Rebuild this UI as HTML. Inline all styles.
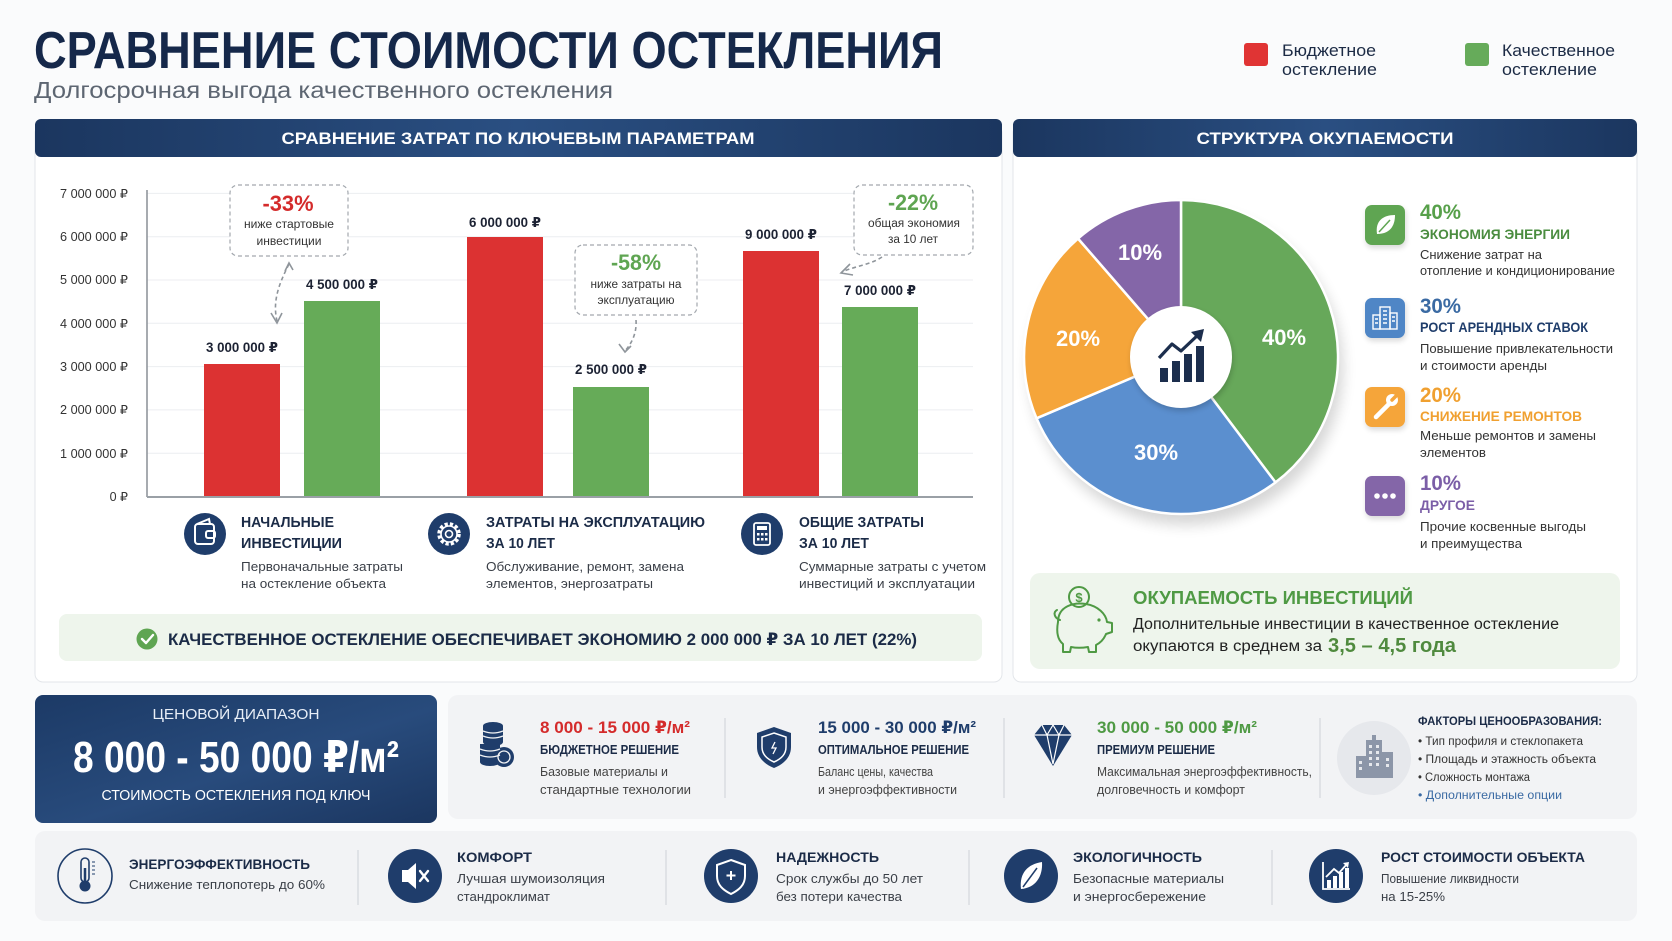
<!DOCTYPE html>
<html><head><meta charset="utf-8">
<style>
html,body{margin:0;padding:0;background:#fafbfc;}
svg{display:block;font-family:"Liberation Sans","DejaVu Sans",sans-serif;}
</style></head><body>
<svg width="1672" height="941" viewBox="0 0 1672 941" xmlns="http://www.w3.org/2000/svg">
<defs>
 <linearGradient id="hdr" x1="0" x2="1" y1="0" y2="0">
  <stop offset="0" stop-color="#1b365f"/><stop offset="0.5" stop-color="#2a4f82"/><stop offset="1" stop-color="#1b365f"/>
 </linearGradient>
 <linearGradient id="navy" x1="0" y1="0" x2="1" y2="1">
  <stop offset="0" stop-color="#1c3a66"/><stop offset="0.55" stop-color="#284b7c"/><stop offset="1" stop-color="#1b3660"/>
 </linearGradient>
 <filter id="sh" x="-30%" y="-30%" width="160%" height="160%"><feGaussianBlur stdDeviation="7"/></filter>
 <filter id="sh2" x="-30%" y="-30%" width="160%" height="160%"><feGaussianBlur stdDeviation="3"/></filter>
</defs>
<rect width="1672" height="941" fill="#fafbfc"/>

<!-- Title -->
<text x="34" y="68" font-size="52" font-weight="bold" fill="#15284a" textLength="909" lengthAdjust="spacingAndGlyphs">СРАВНЕНИЕ СТОИМОСТИ ОСТЕКЛЕНИЯ</text>
<text x="34" y="98" font-size="23" fill="#5d6672" textLength="579" lengthAdjust="spacingAndGlyphs">Долгосрочная выгода качественного остекления</text>

<!-- Legend -->
<rect x="1244" y="43" width="24" height="23" rx="3" fill="#e03434"/>
<text x="1282" y="56" font-size="17" fill="#1c2b45" textLength="94" lengthAdjust="spacingAndGlyphs">Бюджетное</text>
<text x="1282" y="75" font-size="17" fill="#1c2b45" textLength="95" lengthAdjust="spacingAndGlyphs">остекление</text>
<rect x="1465" y="43" width="24" height="23" rx="3" fill="#66ab5a"/>
<text x="1502" y="56" font-size="17" fill="#1c2b45" textLength="113" lengthAdjust="spacingAndGlyphs">Качественное</text>
<text x="1502" y="75" font-size="17" fill="#1c2b45" textLength="95" lengthAdjust="spacingAndGlyphs">остекление</text>

<!-- Left panel -->
<rect x="35" y="125" width="967" height="557" rx="8" fill="#fff" stroke="#e3e6ea"/>
<rect x="35" y="119" width="967" height="38" rx="6" fill="url(#hdr)"/>
<text x="518" y="144" font-size="17" font-weight="bold" fill="#fff" text-anchor="middle" textLength="473" lengthAdjust="spacingAndGlyphs">СРАВНЕНИЕ ЗАТРАТ ПО КЛЮЧЕВЫМ ПАРАМЕТРАМ</text>

<!-- Right panel -->
<rect x="1013" y="125" width="624" height="557" rx="8" fill="#fff" stroke="#e3e6ea"/>
<rect x="1013" y="119" width="624" height="38" rx="6" fill="url(#hdr)"/>
<text x="1325" y="144" font-size="17" font-weight="bold" fill="#fff" text-anchor="middle" textLength="257" lengthAdjust="spacingAndGlyphs">СТРУКТУРА ОКУПАЕМОСТИ</text>

<!-- Grid -->
<g stroke="#eceef1" stroke-width="1">
 <line x1="147" y1="453.2" x2="973" y2="453.2"/>
 <line x1="147" y1="409.9" x2="973" y2="409.9"/>
 <line x1="147" y1="366.6" x2="973" y2="366.6"/>
 <line x1="147" y1="323.3" x2="973" y2="323.3"/>
 <line x1="147" y1="280" x2="973" y2="280"/>
 <line x1="147" y1="236.7" x2="973" y2="236.7"/>
 <line x1="147" y1="193.4" x2="973" y2="193.4"/>
</g>
<line x1="147" y1="190" x2="147" y2="497" stroke="#8a8f96" stroke-width="1.5"/>

<!-- Y ticks -->
<g font-size="12.5" fill="#333" text-anchor="end">
 <text x="128" y="198" textLength="68" lengthAdjust="spacingAndGlyphs">7 000 000 ₽</text>
 <text x="128" y="241" textLength="68" lengthAdjust="spacingAndGlyphs">6 000 000 ₽</text>
 <text x="128" y="284" textLength="68" lengthAdjust="spacingAndGlyphs">5 000 000 ₽</text>
 <text x="128" y="328" textLength="68" lengthAdjust="spacingAndGlyphs">4 000 000 ₽</text>
 <text x="128" y="371" textLength="68" lengthAdjust="spacingAndGlyphs">3 000 000 ₽</text>
 <text x="128" y="414" textLength="68" lengthAdjust="spacingAndGlyphs">2 000 000 ₽</text>
 <text x="128" y="458" textLength="68" lengthAdjust="spacingAndGlyphs">1 000 000 ₽</text>
 <text x="128" y="501">0 ₽</text>
</g>

<!-- Bars -->
<rect x="204" y="364" width="76" height="133" fill="#dc3232"/>
<rect x="304" y="301" width="76" height="196" fill="#66ab58"/>
<rect x="467" y="237" width="76" height="260" fill="#dc3232"/>
<rect x="573" y="387" width="76" height="110" fill="#66ab58"/>
<rect x="743" y="251" width="76" height="246" fill="#dc3232"/>
<rect x="842" y="307" width="76" height="190" fill="#66ab58"/>
<line x1="147" y1="497" x2="973" y2="497" stroke="#9aa0a6" stroke-width="2"/>

<g font-size="13.5" font-weight="bold" fill="#1c2233" text-anchor="middle">
 <text x="242" y="352" textLength="72" lengthAdjust="spacingAndGlyphs">3 000 000 ₽</text>
 <text x="342" y="289" textLength="72" lengthAdjust="spacingAndGlyphs">4 500 000 ₽</text>
 <text x="505" y="227" textLength="72" lengthAdjust="spacingAndGlyphs">6 000 000 ₽</text>
 <text x="611" y="374" textLength="72" lengthAdjust="spacingAndGlyphs">2 500 000 ₽</text>
 <text x="781" y="239" textLength="72" lengthAdjust="spacingAndGlyphs">9 000 000 ₽</text>
 <text x="880" y="295" textLength="72" lengthAdjust="spacingAndGlyphs">7 000 000 ₽</text>
</g>

<!-- Callouts -->
<g fill="#fff" stroke="#a3a8ae" stroke-width="1.2" stroke-dasharray="4 3">
 <rect x="230" y="185" width="118" height="71" rx="8"/>
 <rect x="575" y="245" width="122" height="70" rx="8"/>
 <rect x="854" y="185" width="119" height="70" rx="8"/>
</g>
<text x="288" y="211" font-size="22" font-weight="bold" fill="#d42b2b" text-anchor="middle" textLength="51" lengthAdjust="spacingAndGlyphs">-33%</text>
<text x="289" y="228" font-size="11.5" fill="#333" text-anchor="middle" textLength="90" lengthAdjust="spacingAndGlyphs">ниже стартовые</text>
<text x="289" y="245" font-size="11.5" fill="#333" text-anchor="middle" textLength="65" lengthAdjust="spacingAndGlyphs">инвестиции</text>
<text x="636" y="270" font-size="22" font-weight="bold" fill="#5fa552" text-anchor="middle" textLength="50" lengthAdjust="spacingAndGlyphs">-58%</text>
<text x="636" y="288" font-size="11.5" fill="#333" text-anchor="middle" textLength="91" lengthAdjust="spacingAndGlyphs">ниже затраты на</text>
<text x="636" y="304" font-size="11.5" fill="#333" text-anchor="middle" textLength="77" lengthAdjust="spacingAndGlyphs">эксплуатацию</text>
<text x="913" y="210" font-size="22" font-weight="bold" fill="#5fa552" text-anchor="middle" textLength="50" lengthAdjust="spacingAndGlyphs">-22%</text>
<text x="914" y="227" font-size="11.5" fill="#333" text-anchor="middle" textLength="92" lengthAdjust="spacingAndGlyphs">общая экономия</text>
<text x="913" y="243" font-size="11.5" fill="#333" text-anchor="middle" textLength="50" lengthAdjust="spacingAndGlyphs">за 10 лет</text>

<g fill="none" stroke="#8f959b" stroke-width="1.6">
 <path d="M289 264 C280 282 272 300 277 321" stroke-dasharray="4 3"/>
 <path d="M271 313 L277 323 L282 313"/>
 <path d="M285 271 L289 263 L293 270"/>
 <path d="M636 320 C637 334 631 344 625 351" stroke-dasharray="4 3"/>
 <path d="M619 344 L625 352 L631 346"/>
 <path d="M882 257 C870 265 855 266 842 272" stroke-dasharray="4 3"/>
 <path d="M850 264 L841 273 L853 275"/>
</g>

<!-- Category icons + labels -->
<circle cx="205" cy="534" r="21" fill="#1f3d6b"/>
<g fill="none" stroke="#fff" stroke-width="2">
 <rect x="195" y="524" width="19" height="20" rx="3"/>
 <rect x="206" y="531" width="9" height="7" rx="2"/>
 <path d="M197 524 L209 519 L210 524"/>
</g>
<circle cx="449" cy="534" r="21" fill="#1f3d6b"/>
<circle cx="449" cy="534" r="10" fill="none" stroke="#fff" stroke-width="3.5" stroke-dasharray="3.2 2.1"/>
<circle cx="449" cy="534" r="8" fill="none" stroke="#fff" stroke-width="1.6"/>
<circle cx="449" cy="534" r="3.5" fill="none" stroke="#fff" stroke-width="1.6"/>
<circle cx="762" cy="534" r="21" fill="#1f3d6b"/>
<rect x="754" y="523" width="16" height="22" rx="2" fill="none" stroke="#fff" stroke-width="1.8"/>
<rect x="757" y="526" width="10" height="4" fill="#fff"/>
<g fill="#fff">
 <rect x="757" y="533" width="2.5" height="2.5"/><rect x="761" y="533" width="2.5" height="2.5"/><rect x="765" y="533" width="2.5" height="2.5"/>
 <rect x="757" y="538" width="2.5" height="2.5"/><rect x="761" y="538" width="2.5" height="2.5"/><rect x="765" y="538" width="2.5" height="2.5"/>
</g>

<g font-size="14.5" font-weight="bold" fill="#1b2b47">
 <text x="241" y="527" textLength="93" lengthAdjust="spacingAndGlyphs">НАЧАЛЬНЫЕ</text>
 <text x="241" y="548" textLength="101" lengthAdjust="spacingAndGlyphs">ИНВЕСТИЦИИ</text>
 <text x="486" y="527" textLength="219" lengthAdjust="spacingAndGlyphs">ЗАТРАТЫ НА ЭКСПЛУАТАЦИЮ</text>
 <text x="486" y="548" textLength="69" lengthAdjust="spacingAndGlyphs">ЗА 10 ЛЕТ</text>
 <text x="799" y="527" textLength="125" lengthAdjust="spacingAndGlyphs">ОБЩИЕ ЗАТРАТЫ</text>
 <text x="799" y="548" textLength="70" lengthAdjust="spacingAndGlyphs">ЗА 10 ЛЕТ</text>
</g>
<g font-size="13" fill="#3a3f47">
 <text x="241" y="571" textLength="162" lengthAdjust="spacingAndGlyphs">Первоначальные затраты</text>
 <text x="241" y="588" textLength="145" lengthAdjust="spacingAndGlyphs">на остекление объекта</text>
 <text x="486" y="571" textLength="198" lengthAdjust="spacingAndGlyphs">Обслуживание, ремонт, замена</text>
 <text x="486" y="588" textLength="167" lengthAdjust="spacingAndGlyphs">элементов, энергозатраты</text>
 <text x="799" y="571" textLength="187" lengthAdjust="spacingAndGlyphs">Суммарные затраты с учетом</text>
 <text x="799" y="588" textLength="176" lengthAdjust="spacingAndGlyphs">инвестиций и эксплуатации</text>
</g>

<!-- Savings banner -->
<rect x="59" y="614" width="923" height="47" rx="8" fill="#eef5ec"/>
<circle cx="147" cy="639" r="10.5" fill="#5fa552"/>
<path d="M142 639 L146 643 L153 635" fill="none" stroke="#fff" stroke-width="2.4" stroke-linecap="round" stroke-linejoin="round"/>
<text x="168" y="645" font-size="17" font-weight="bold" fill="#1b2b47" textLength="749" lengthAdjust="spacingAndGlyphs">КАЧЕСТВЕННОЕ ОСТЕКЛЕНИЕ ОБЕСПЕЧИВАЕТ ЭКОНОМИЮ 2 000 000 ₽ ЗА 10 ЛЕТ (22%)</text>

<!-- Pie -->
<circle cx="1186" cy="368" r="157" fill="#000" opacity="0.16" filter="url(#sh)"/>
<g stroke="#fff" stroke-width="2.5" stroke-linejoin="round">
 <path d="M1181 357 L1181 200 A157 157 0 0 1 1275.5 482.4 Z" fill="#67a85a"/>
 <path d="M1181 357 L1275.5 482.4 A157 157 0 0 1 1036.5 418.3 Z" fill="#5b8fcf"/>
 <path d="M1181 357 L1036.5 418.3 A157 157 0 0 1 1078 238.5 Z" fill="#f5a53a"/>
 <path d="M1181 357 L1078 238.5 A157 157 0 0 1 1181 200 Z" fill="#8466a8"/>
</g>
<circle cx="1182" cy="360" r="51" fill="#000" opacity="0.18" filter="url(#sh2)"/>
<circle cx="1181" cy="357" r="51" fill="#fff"/>
<g fill="#1c2e4d">
 <rect x="1160" y="368" width="8" height="14"/>
 <rect x="1172" y="361" width="8" height="21"/>
 <rect x="1184" y="354" width="8" height="28"/>
 <rect x="1196" y="346" width="8" height="36"/>
</g>
<path d="M1159 358 L1172 344 L1181 351 L1199 334" fill="none" stroke="#1c2e4d" stroke-width="3.2" stroke-linejoin="round"/>
<path d="M1191 332 L1204 329 L1201 342 Z" fill="#1c2e4d"/>
<g font-size="22" font-weight="bold" fill="#fff" text-anchor="middle">
 <text x="1284" y="345">40%</text>
 <text x="1156" y="460">30%</text>
 <text x="1078" y="346">20%</text>
 <text x="1140" y="260">10%</text>
</g>

<!-- Right legend items -->
<g>
 <rect x="1366" y="208" width="40" height="40" rx="7" fill="#000" opacity="0.15" filter="url(#sh2)"/>
 <rect x="1365" y="205" width="40" height="40" rx="7" fill="#5fa552"/>
 <path d="M1377 234 C1375 221 1383 215 1395 215 C1395 227 1389 234 1377 234 Z" fill="#fff"/>
 <path d="M1379 232 L1390 220" stroke="#5fa552" stroke-width="1.5"/>
 <rect x="1366" y="301" width="40" height="40" rx="7" fill="#000" opacity="0.15" filter="url(#sh2)"/>
 <rect x="1365" y="298" width="40" height="40" rx="7" fill="#4f86c6"/>
 <g fill="none" stroke="#fff" stroke-width="1.4">
  <rect x="1380" y="307" width="10" height="22"/>
  <rect x="1373" y="315" width="7" height="14"/>
  <rect x="1390" y="313" width="7" height="16"/>
  <path d="M1383 311 h4 M1383 315 h4 M1383 319 h4 M1383 323 h4 M1375 319 h3 M1375 323 h3 M1392 317 h3 M1392 321 h3"/>
 </g>
 <rect x="1366" y="390" width="40" height="40" rx="7" fill="#000" opacity="0.15" filter="url(#sh2)"/>
 <rect x="1365" y="387" width="40" height="40" rx="7" fill="#f5a53a"/>
 <path d="M1376 417 L1390 403" stroke="#fff" stroke-width="4.5" stroke-linecap="round"/>
 <circle cx="1392" cy="400" r="6" fill="#fff"/>
 <path d="M1392 400 L1398 394" stroke="#f5a53a" stroke-width="3.5" stroke-linecap="round"/>
 <rect x="1366" y="479" width="40" height="40" rx="7" fill="#000" opacity="0.15" filter="url(#sh2)"/>
 <rect x="1365" y="476" width="40" height="40" rx="7" fill="#8466a8"/>
 <circle cx="1377" cy="496" r="2.8" fill="#fff"/><circle cx="1385" cy="496" r="2.8" fill="#fff"/><circle cx="1393" cy="496" r="2.8" fill="#fff"/>
</g>
<text x="1420" y="219" font-size="21" font-weight="bold" fill="#57a04a" textLength="41" lengthAdjust="spacingAndGlyphs">40%</text>
<text x="1420" y="239" font-size="14" font-weight="bold" fill="#4a8c3f" textLength="150" lengthAdjust="spacingAndGlyphs">ЭКОНОМИЯ ЭНЕРГИИ</text>
<text x="1420" y="259" font-size="12.5" fill="#333" textLength="122" lengthAdjust="spacingAndGlyphs">Снижение затрат на</text>
<text x="1420" y="275" font-size="12.5" fill="#333" textLength="195" lengthAdjust="spacingAndGlyphs">отопление и кондиционирование</text>

<text x="1420" y="313" font-size="21" font-weight="bold" fill="#3a6aa3" textLength="41" lengthAdjust="spacingAndGlyphs">30%</text>
<text x="1420" y="332" font-size="14" font-weight="bold" fill="#1f3d6b" textLength="168" lengthAdjust="spacingAndGlyphs">РОСТ АРЕНДНЫХ СТАВОК</text>
<text x="1420" y="353" font-size="12.5" fill="#333" textLength="193" lengthAdjust="spacingAndGlyphs">Повышение привлекательности</text>
<text x="1420" y="370" font-size="12.5" fill="#333" textLength="127" lengthAdjust="spacingAndGlyphs">и стоимости аренды</text>

<text x="1420" y="402" font-size="21" font-weight="bold" fill="#f0a030" textLength="41" lengthAdjust="spacingAndGlyphs">20%</text>
<text x="1420" y="421" font-size="14" font-weight="bold" fill="#f0a030" textLength="162" lengthAdjust="spacingAndGlyphs">СНИЖЕНИЕ РЕМОНТОВ</text>
<text x="1420" y="440" font-size="12.5" fill="#333" textLength="176" lengthAdjust="spacingAndGlyphs">Меньше ремонтов и замены</text>
<text x="1420" y="457" font-size="12.5" fill="#333" textLength="66" lengthAdjust="spacingAndGlyphs">элементов</text>

<text x="1420" y="490" font-size="21" font-weight="bold" fill="#7b5ea7" textLength="41" lengthAdjust="spacingAndGlyphs">10%</text>
<text x="1420" y="510" font-size="14" font-weight="bold" fill="#7b5ea7" textLength="55" lengthAdjust="spacingAndGlyphs">ДРУГОЕ</text>
<text x="1420" y="531" font-size="12.5" fill="#333" textLength="166" lengthAdjust="spacingAndGlyphs">Прочие косвенные выгоды</text>
<text x="1420" y="548" font-size="12.5" fill="#333" textLength="102" lengthAdjust="spacingAndGlyphs">и преимущества</text>

<!-- Payback box -->
<rect x="1030" y="573" width="590" height="96" rx="10" fill="#eef5ec"/>
<g fill="none" stroke="#4f9a44" stroke-width="2" stroke-linejoin="round" stroke-linecap="round">
 <path d="M1058 622 C1058 606 1074 602 1086 604 C1098 606 1106 614 1107 622 L1112 623 L1112 632 L1106 634 C1104 639 1100 643 1096 645 L1096 652 L1089 652 L1088 647 C1082 648 1076 648 1071 647 L1070 652 L1063 652 L1063 644 C1058 640 1056 633 1058 622 Z"/>
 <path d="M1060 620 C1054 618 1053 612 1057 610"/>
 <circle cx="1079" cy="597" r="10"/>
</g>
<circle cx="1099" cy="620" r="1.6" fill="#4f9a44"/>
<text x="1079" y="602" font-size="13" font-weight="bold" fill="#4f9a44" text-anchor="middle">$</text>
<text x="1133" y="604" font-size="18" font-weight="bold" fill="#4f9a44" textLength="280" lengthAdjust="spacingAndGlyphs">ОКУПАЕМОСТЬ ИНВЕСТИЦИЙ</text>
<text x="1133" y="629" font-size="15.5" fill="#222" textLength="426" lengthAdjust="spacingAndGlyphs">Дополнительные инвестиции в качественное остекление</text>
<text x="1133" y="651" font-size="15.5" fill="#222" textLength="189" lengthAdjust="spacingAndGlyphs">окупаются в среднем за</text>
<text x="1328" y="652" font-size="20" font-weight="bold" fill="#4f8a3e" textLength="128" lengthAdjust="spacingAndGlyphs">3,5 – 4,5 года</text>

<!-- Price range box -->
<rect x="35" y="695" width="402" height="128" rx="8" fill="url(#navy)"/>
<text x="236" y="719" font-size="15" fill="#e8eef7" text-anchor="middle" textLength="167" lengthAdjust="spacingAndGlyphs">ЦЕНОВОЙ ДИАПАЗОН</text>
<text x="236" y="772" font-size="44" font-weight="bold" fill="#fff" text-anchor="middle" textLength="326" lengthAdjust="spacingAndGlyphs">8 000 - 50 000 ₽/м²</text>
<text x="236" y="800" font-size="14.5" fill="#fff" text-anchor="middle" textLength="269" lengthAdjust="spacingAndGlyphs">СТОИМОСТЬ ОСТЕКЛЕНИЯ ПОД КЛЮЧ</text>

<!-- Tiers box -->
<rect x="448" y="695" width="1189" height="124" rx="10" fill="#f2f3f5"/>
<g fill="#1f3d6b">
 <ellipse cx="493" cy="726" rx="10" ry="4"/>
 <rect x="483" y="726" width="20" height="16"/>
 <ellipse cx="493" cy="742" rx="10" ry="4"/>
 <rect x="480" y="744" width="20" height="18"/>
 <ellipse cx="490" cy="762" rx="10" ry="4"/>
 <circle cx="504" cy="757" r="10"/>
</g>
<g fill="none" stroke="#f2f3f5" stroke-width="1.3">
 <path d="M483 731 q10 4 20 0 M483 736 q10 4 20 0 M480 749 q10 4 20 0 M480 755 q10 4 20 0"/>
 <circle cx="504" cy="757" r="6"/>
</g>
<path d="M774 727 L791 733 L791 747 C791 757 784 764 774 768 C764 764 757 757 757 747 L757 733 Z" fill="#1f3d6b"/>
<path d="M774 733 L786 737 L786 747 C786 754 781 759 774 762 C767 759 762 754 762 747 L762 737 Z" fill="none" stroke="#fff" stroke-width="1.5"/>
<path d="M775 742 L772 748 L776 748 L773 754" fill="none" stroke="#fff" stroke-width="1.3"/>
<polygon points="1034,735 1042,725 1064,725 1072,735 1053,766" fill="#1f3d6b"/>
<path d="M1034 735 L1072 735 M1042 725 L1047 735 L1053 725 L1059 735 L1064 725 M1047 735 L1053 764 L1059 735" fill="none" stroke="#fff" stroke-width="1.2"/>
<circle cx="1374" cy="758" r="37" fill="#e6e8ec"/>
<g fill="#8c96a8">
 <rect x="1366" y="740" width="16" height="38"/>
 <rect x="1356" y="756" width="10" height="22"/>
 <rect x="1382" y="752" width="11" height="26"/>
 <rect x="1372" y="735" width="4" height="6"/>
</g>
<g fill="#e6e8ec">
 <rect x="1369" y="745" width="3" height="3"/><rect x="1376" y="745" width="3" height="3"/>
 <rect x="1369" y="751" width="3" height="3"/><rect x="1376" y="751" width="3" height="3"/>
 <rect x="1369" y="757" width="3" height="3"/><rect x="1376" y="757" width="3" height="3"/>
 <rect x="1369" y="763" width="3" height="3"/><rect x="1376" y="763" width="3" height="3"/>
 <rect x="1359" y="761" width="3" height="3"/><rect x="1359" y="767" width="3" height="3"/>
 <rect x="1386" y="758" width="3" height="3"/><rect x="1386" y="764" width="3" height="3"/>
</g>
<g stroke="#d3d6db" stroke-width="1.2">
 <line x1="725" y1="718" x2="725" y2="798"/>
 <line x1="1004" y1="718" x2="1004" y2="798"/>
 <line x1="1320" y1="718" x2="1320" y2="798"/>
</g>
<text x="540" y="733" font-size="17" font-weight="bold" fill="#d42b2b" textLength="150" lengthAdjust="spacingAndGlyphs">8 000 - 15 000 ₽/м²</text>
<text x="540" y="754" font-size="12.5" font-weight="bold" fill="#1b2b47" textLength="139" lengthAdjust="spacingAndGlyphs">БЮДЖЕТНОЕ РЕШЕНИЕ</text>
<text x="540" y="776" font-size="12.5" fill="#444" textLength="128" lengthAdjust="spacingAndGlyphs">Базовые материалы и</text>
<text x="540" y="794" font-size="12.5" fill="#444" textLength="151" lengthAdjust="spacingAndGlyphs">стандартные технологии</text>

<text x="818" y="733" font-size="17" font-weight="bold" fill="#1f3d6b" textLength="158" lengthAdjust="spacingAndGlyphs">15 000 - 30 000 ₽/м²</text>
<text x="818" y="754" font-size="12.5" font-weight="bold" fill="#1b2b47" textLength="151" lengthAdjust="spacingAndGlyphs">ОПТИМАЛЬНОЕ РЕШЕНИЕ</text>
<text x="818" y="776" font-size="12.5" fill="#444" textLength="115" lengthAdjust="spacingAndGlyphs">Баланс цены, качества</text>
<text x="818" y="794" font-size="12.5" fill="#444" textLength="139" lengthAdjust="spacingAndGlyphs">и энергоэффективности</text>

<text x="1097" y="733" font-size="17" font-weight="bold" fill="#4f9a44" textLength="160" lengthAdjust="spacingAndGlyphs">30 000 - 50 000 ₽/м²</text>
<text x="1097" y="754" font-size="12.5" font-weight="bold" fill="#1b2b47" textLength="118" lengthAdjust="spacingAndGlyphs">ПРЕМИУМ РЕШЕНИЕ</text>
<text x="1097" y="776" font-size="12.5" fill="#444" textLength="215" lengthAdjust="spacingAndGlyphs">Максимальная энергоэффективность,</text>
<text x="1097" y="794" font-size="12.5" fill="#444" textLength="148" lengthAdjust="spacingAndGlyphs">долговечность и комфорт</text>

<text x="1418" y="725" font-size="12" font-weight="bold" fill="#1b2b47" textLength="184" lengthAdjust="spacingAndGlyphs">ФАКТОРЫ ЦЕНООБРАЗОВАНИЯ:</text>
<text x="1418" y="745" font-size="11.5" fill="#333" textLength="165" lengthAdjust="spacingAndGlyphs">• Тип профиля и стеклопакета</text>
<text x="1418" y="763" font-size="11.5" fill="#333" textLength="178" lengthAdjust="spacingAndGlyphs">• Площадь и этажность объекта</text>
<text x="1418" y="781" font-size="11.5" fill="#333" textLength="112" lengthAdjust="spacingAndGlyphs">• Сложность монтажа</text>
<text x="1418" y="799" font-size="11.5" fill="#3a6aa3" textLength="144" lengthAdjust="spacingAndGlyphs">• Дополнительные опции</text>

<!-- Bottom strip -->
<rect x="35" y="831" width="1602" height="90" rx="10" fill="#f2f3f5"/>
<g stroke="#d3d6db" stroke-width="1.2">
 <line x1="358" y1="850" x2="358" y2="905"/>
 <line x1="666" y1="850" x2="666" y2="905"/>
 <line x1="969" y1="850" x2="969" y2="905"/>
 <line x1="1272" y1="850" x2="1272" y2="905"/>
</g>
<!-- icon 1 thermometer -->
<circle cx="85" cy="876" r="27" fill="none" stroke="#1f3d6b" stroke-width="1.6"/>
<rect x="81" y="858" width="8" height="24" rx="4" fill="none" stroke="#1f3d6b" stroke-width="1.6"/>
<circle cx="85" cy="886" r="5.5" fill="#1f3d6b"/>
<line x1="85" y1="868" x2="85" y2="884" stroke="#1f3d6b" stroke-width="2.5"/>
<path d="M92 862 h3 M92 866 h3 M92 870 h3 M92 874 h3" stroke="#1f3d6b" stroke-width="1"/>
<!-- icon 2 speaker -->
<circle cx="415" cy="876" r="27" fill="#1f3d6b"/>
<polygon points="402,870 408,870 416,863 416,889 408,882 402,882" fill="#fff"/>
<path d="M420 871 L428 881 M428 871 L420 881" stroke="#fff" stroke-width="2.4" stroke-linecap="round"/>
<!-- icon 3 shield -->
<circle cx="731" cy="876" r="27" fill="#1f3d6b"/>
<path d="M731 860 L745 865 L745 876 C745 885 739 890 731 894 C723 890 717 885 717 876 L717 865 Z" fill="none" stroke="#fff" stroke-width="2"/>
<path d="M731 871 v9 M726.5 875.5 h9" stroke="#fff" stroke-width="2"/>
<!-- icon 4 leaf -->
<circle cx="1031" cy="876" r="27" fill="#1f3d6b"/>
<path d="M1021 889 C1019 873 1028 864 1042 862 C1043 877 1035 888 1021 889 Z" fill="#fff"/>
<path d="M1023 887 L1037 868" stroke="#1f3d6b" stroke-width="1.5"/>
<!-- icon 5 chart -->
<circle cx="1336" cy="876" r="27" fill="#1f3d6b"/>
<path d="M1323 862 V889 H1350" fill="none" stroke="#fff" stroke-width="1.8"/>
<g fill="#fff">
 <rect x="1327" y="880" width="4" height="8"/><rect x="1333" y="876" width="4" height="12"/><rect x="1339" y="872" width="4" height="16"/><rect x="1345" y="868" width="4" height="20"/>
</g>
<path d="M1326 877 L1334 869 L1339 873 L1347 864" fill="none" stroke="#fff" stroke-width="1.8"/>
<path d="M1343 863 L1349 862 L1348 868 Z" fill="#fff"/>

<g font-size="14" font-weight="bold" fill="#1b2b47">
 <text x="129" y="869" textLength="181" lengthAdjust="spacingAndGlyphs">ЭНЕРГОЭФФЕКТИВНОСТЬ</text>
 <text x="457" y="862" textLength="75" lengthAdjust="spacingAndGlyphs">КОМФОРТ</text>
 <text x="776" y="862" textLength="103" lengthAdjust="spacingAndGlyphs">НАДЕЖНОСТЬ</text>
 <text x="1073" y="862" textLength="129" lengthAdjust="spacingAndGlyphs">ЭКОЛОГИЧНОСТЬ</text>
 <text x="1381" y="862" textLength="204" lengthAdjust="spacingAndGlyphs">РОСТ СТОИМОСТИ ОБЪЕКТА</text>
</g>
<g font-size="13" fill="#3a3f47">
 <text x="129" y="889" textLength="196" lengthAdjust="spacingAndGlyphs">Снижение теплопотерь до 60%</text>
 <text x="457" y="883" textLength="148" lengthAdjust="spacingAndGlyphs">Лучшая шумоизоляция</text>
 <text x="457" y="901" textLength="93" lengthAdjust="spacingAndGlyphs">стандроклимат</text>
 <text x="776" y="883" textLength="147" lengthAdjust="spacingAndGlyphs">Срок службы до 50 лет</text>
 <text x="776" y="901" textLength="126" lengthAdjust="spacingAndGlyphs">без потери качества</text>
 <text x="1073" y="883" textLength="151" lengthAdjust="spacingAndGlyphs">Безопасные материалы</text>
 <text x="1073" y="901" textLength="133" lengthAdjust="spacingAndGlyphs">и энергосбережение</text>
 <text x="1381" y="883" textLength="138" lengthAdjust="spacingAndGlyphs">Повышение ликвидности</text>
 <text x="1381" y="901" textLength="64" lengthAdjust="spacingAndGlyphs">на 15-25%</text>
</g>
</svg>
</body></html>
